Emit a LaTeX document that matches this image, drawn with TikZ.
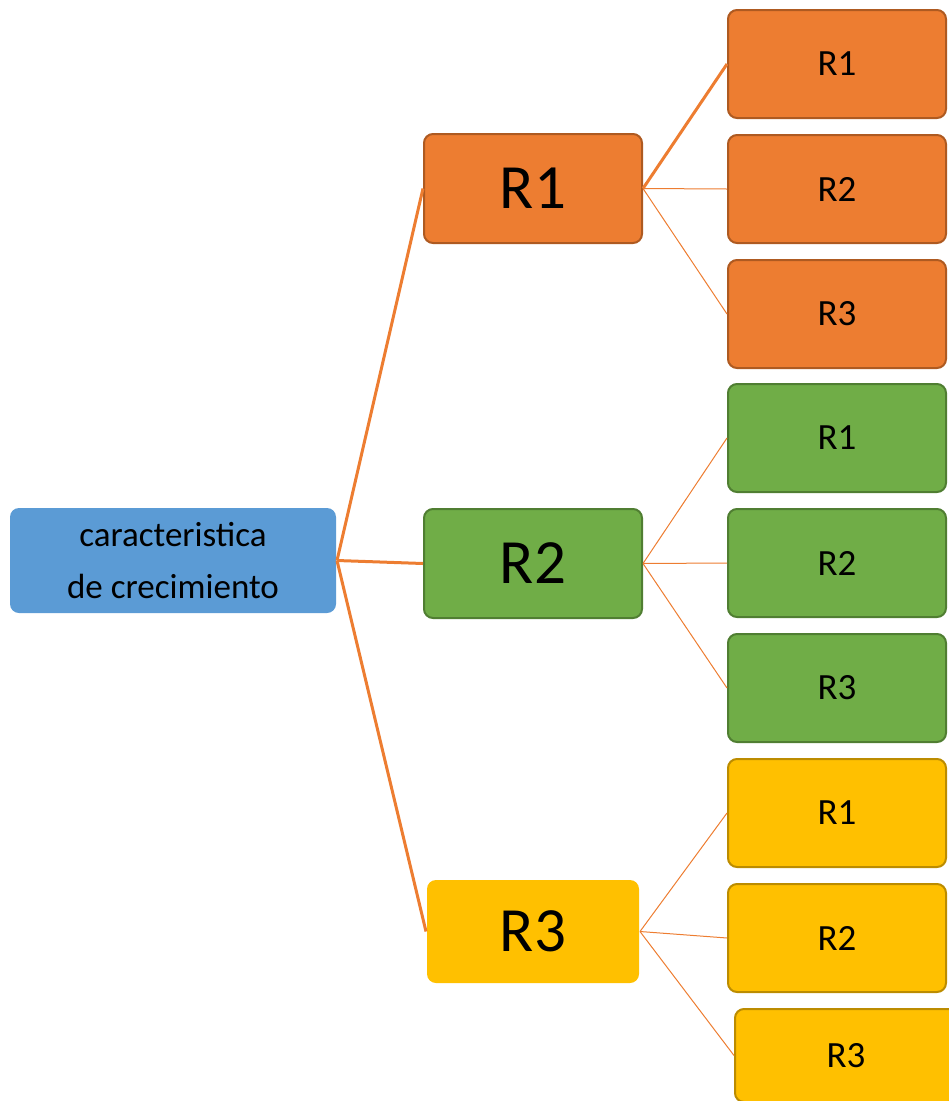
\documentclass[tikz,border=0pt]{standalone}
\usepackage{fontspec}
\setmainfont{Carlito}
\definecolor{orf}{HTML}{ED7D31}
\definecolor{ord}{HTML}{AE5A21}
\definecolor{grf}{HTML}{70AD47}
\definecolor{grd}{HTML}{507E32}
\definecolor{yef}{HTML}{FFC000}
\definecolor{yed}{HTML}{BC8C00}
\definecolor{blf}{HTML}{5B9BD5}
\tikzset{
  box/.style={rectangle, rounded corners=9pt, inner sep=0pt, line width=2pt, anchor=north west},
  rootbox/.style={box, fill=blf, minimum width=326pt, minimum height=105pt, align=center, font=\fontsize{35}{52}\selectfont},
  midbox/.style={box, minimum width=218pt, minimum height=109pt, font=\fontsize{63}{70}\selectfont},
  leafbox/.style={box, minimum width=218pt, minimum height=108pt, font=\fontsize{37}{44}\selectfont},
  orb/.style={fill=orf, draw=ord},
  grb/.style={fill=grf, draw=grd},
  yeb/.style={fill=yef, draw=yed},
  thick link/.style={draw=orf, line width=3pt},
  thin link/.style={draw=orf, line width=1pt},
}
\begin{document}
\begin{tikzpicture}[x=1pt, y=-1pt]
\useasboundingbox (0,0) rectangle (949,1101);
\node[rootbox] (root) at (9,507) {caracteristica\\de crecimiento};
\node[midbox, orb] (m1) at (423,133) {R1};
\node[midbox, grb] (m2) at (423,508) {R2};
\node[midbox, fill=yef, minimum width=212pt, minimum height=103pt] (m3) at (426,879) {R3};
\node[leafbox, orb] (a1) at (727,9) {R1};
\node[leafbox, orb] (a2) at (727,134) {R2};
\node[leafbox, orb] (a3) at (727,259) {R3};
\node[leafbox, grb] (b1) at (727,383) {R1};
\node[leafbox, grb] (b2) at (727,508) {R2};
\node[leafbox, grb] (b3) at (727,633) {R3};
\node[leafbox, yeb] (c1) at (727,758) {R1};
\node[leafbox, yeb] (c2) at (727,883) {R2};
\node[leafbox, yeb, minimum width=222pt, minimum height=93pt] (c3) at (734,1008) {R3};
\draw[thick link] (root.east) -- (m1.west);
\draw[thick link] (root.east) -- (m2.west);
\draw[thick link] (root.east) -- (m3.west);
\draw[thick link] (m1.east) -- (a1.west);
\draw[thin link] (m1.east) -- (a2.west);
\draw[thin link] (m1.east) -- (a3.west);
\draw[thin link] (m2.east) -- (b1.west);
\draw[thin link] (m2.east) -- (b2.west);
\draw[thin link] (m2.east) -- (b3.west);
\draw[thin link] (m3.east) -- (c1.west);
\draw[thin link] (m3.east) -- (c2.west);
\draw[thin link] (m3.east) -- (c3.west);
\end{tikzpicture}
\end{document}
